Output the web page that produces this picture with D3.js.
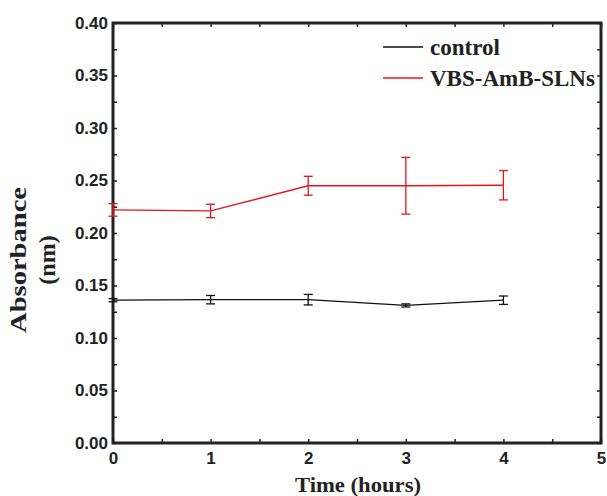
<!DOCTYPE html>
<html>
<head>
<meta charset="utf-8">
<script src="https://cdn.jsdelivr.net/npm/d3@7"></script>
<style>
  body { margin: 0; background: #fff; }
  .tick text { font-family: "Liberation Sans", Arial, sans-serif; font-weight: bold; font-size: 17px; fill: #222; }
  .title { font-family: "Liberation Serif", "Times New Roman", serif; font-weight: bold; fill: #222; }
</style>
</head>
<body>
<svg id="chart" width="607" height="496"></svg>
<script>
// data
let hours = [0, 1, 2, 3, 4]
let control = [0.136, 0.1365, 0.1365, 0.131, 0.136]
let control_err = [0.0015, 0.004, 0.005, 0.0015, 0.004]
let sln = [0.222, 0.221, 0.245, 0.245, 0.2455]
let sln_err = [0.006, 0.0064, 0.009, 0.027, 0.014]
let series_names = ["control", "VBS-AmB-SLNs"]
let series_colors = ["#111", "#e8141c"]
let x_ticks = [0, 1, 2, 3, 4, 5]
let y_ticks = [0, 0.05, 0.1, 0.15, 0.2, 0.25, 0.3, 0.35, 0.4]

let margin = {top: 23, right: 6, bottom: 53, left: 113}
let width = 607, height = 496

let svg = d3.select("#chart")

let x = d3.scaleLinear().domain([0, 5]).range([margin.left, width - margin.right])
let y = d3.scaleLinear().domain([0, 0.4]).range([height - margin.bottom, margin.top])

let minor_x = d3.range(0, 5.01, 0.5)
let minor_y = d3.range(0, 0.4001, 0.025)

// frame ticks (all inward)
function tick_group(axis, transform) {
  let g = svg.append("g").attr("transform", transform).call(axis)
  g.select(".domain").remove()
  g.selectAll("line").attr("stroke", "#222").attr("stroke-width", 1.5)
  return g
}

tick_group(d3.axisBottom(x).tickValues(minor_x).tickSize(-4).tickFormat(""),
  `translate(0, ${y(0)})`)
tick_group(d3.axisTop(x).tickValues(minor_x).tickSize(-4).tickFormat(""),
  `translate(0, ${y(0.4)})`)
tick_group(d3.axisLeft(y).tickValues(minor_y).tickSize(-4).tickFormat(""),
  `translate(${x(0)}, 0)`)
tick_group(d3.axisRight(y).tickValues(minor_y).tickSize(-4).tickFormat(""),
  `translate(${x(5)}, 0)`)

// labelled axes
let xa = tick_group(d3.axisBottom(x).tickValues(x_ticks).tickSize(0).tickPadding(9).tickFormat(d3.format("d")),
  `translate(0, ${y(0)})`)
xa.selectAll("text").attr("dy", "0.71em")
let ya = tick_group(d3.axisLeft(y).tickValues(y_ticks).tickSize(0).tickPadding(5).tickFormat(d3.format(".2f")),
  `translate(${x(0)}, 0)`)

// frame
svg.append("rect")
  .attr("x", x(0)).attr("y", y(0.4))
  .attr("width", x(5) - x(0)).attr("height", y(0) - y(0.4))
  .attr("fill", "none").attr("stroke", "#222").attr("stroke-width", 3)

// series
let all = [
  {name: series_names[0], color: series_colors[0], vals: control, errs: control_err},
  {name: series_names[1], color: series_colors[1], vals: sln, errs: sln_err}
]

let line = d3.line().x(d => x(d.h)).y(d => y(d.v))

all.forEach(s => {
  let pts = hours.map((h, i) => ({h: h, v: s.vals[i], e: s.errs[i]}))
  let g = svg.append("g")
  g.append("path")
    .attr("d", line(pts))
    .attr("fill", "none").attr("stroke", s.color).attr("stroke-width", 1.3)
  let eb = g.selectAll(".err").data(pts).enter().append("g").attr("class", "err")
  eb.append("line")
    .attr("x1", d => x(d.h)).attr("x2", d => x(d.h))
    .attr("y1", d => y(d.v - d.e)).attr("y2", d => y(d.v + d.e))
    .attr("stroke", s.color).attr("stroke-width", 1.3)
  ;[-1, 1].forEach(k => {
    eb.append("line")
      .attr("x1", d => x(d.h) - 4.5).attr("x2", d => x(d.h) + 4.5)
      .attr("y1", d => y(d.v + k * d.e)).attr("y2", d => y(d.v + k * d.e))
      .attr("stroke", s.color).attr("stroke-width", 1.3)
  })
})

// legend
let legend = svg.append("g").attr("transform", "translate(383, 47)")
all.forEach((s, i) => {
  legend.append("line")
    .attr("x1", 0).attr("x2", 40).attr("y1", i * 31).attr("y2", i * 31)
    .attr("stroke", s.color).attr("stroke-width", 1.3)
  legend.append("text")
    .attr("class", "title")
    .attr("x", 47).attr("y", i * 31).attr("dy", "0.35em")
    .style("font-size", "23px")
    .text(s.name)
})

// axis titles
svg.append("text").attr("class", "title")
  .attr("x", 358).attr("y", 492)
  .attr("text-anchor", "middle").style("font-size", "22px")
  .attr("textLength", 126).attr("lengthAdjust", "spacingAndGlyphs")
  .text("Time (hours)")

let yt = svg.append("text").attr("class", "title")
  .attr("transform", "translate(26, 260) rotate(-90)")
  .attr("text-anchor", "middle").style("font-size", "24px")
yt.append("tspan").attr("x", 0).attr("y", 0)
  .attr("textLength", 146).attr("lengthAdjust", "spacingAndGlyphs")
  .text("Absorbance")
yt.append("tspan").attr("x", 0).attr("y", 29).text("(nm)")
</script>
</body>
</html>
